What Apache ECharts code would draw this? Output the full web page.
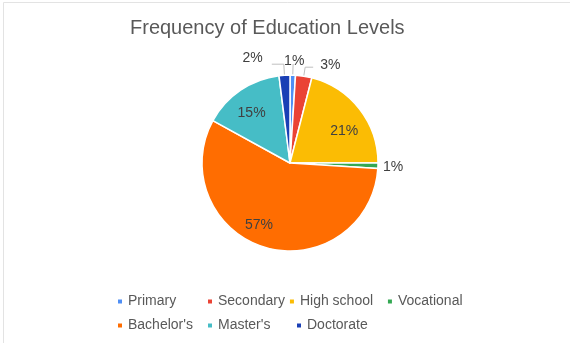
<!DOCTYPE html>
<html>
<head>
<meta charset="utf-8">
<script src="https://cdn.jsdelivr.net/npm/echarts@6/dist/echarts.min.js"></script>
<style>
  html, body { margin: 0; padding: 0; background: #fff; }
  #chart { width: 570px; height: 343px; }
</style>
</head>
<body>
<div id="chart"></div>
<script>
// Education levels and their share of respondents (percent)
const categories = ['Primary', 'Secondary', 'High school', 'Vocational', "Bachelor's", "Master's", 'Doctorate'];
const shares = [1, 3, 21, 1, 57, 15, 2];
const sliceColors = ['#4f8ff5', '#ea4335', '#fbbc04', '#34a853', '#ff6d01', '#46bdc6', '#1a3fb5'];
const insideLabels = ['High school', "Bachelor's", "Master's"];

const FONT = 'Liberation Sans, Arial, sans-serif';
const CX = 290, CY = 163, R = 88;

// leader-line lengths for the small outside slices
const leader = {
  'Primary':    { length: 11, length2: 0 },
  'Secondary':  { length: 9,  length2: 8 },
  'Vocational': { length: 3,  length2: 0, show: false },
  'Doctorate':  { length: 11, length2: 12 }
};
// small nudges applied after the pie has placed its labels
const nudge = {
  'Primary':     [-14, -3],
  'Secondary':   [2, -2],
  'Vocational':  [-3, 1],
  'Doctorate':   [-4, -6],
  'High school': [17, -3],
  "Master's":    [-12, -11],
  "Bachelor's":  [-18, 17]
};
// legend column widths
const legendTextWidth = {
  'Primary': 75, 'Secondary': 64, 'High school': 83,
  "Bachelor's": 75, "Master's": 74
};

const chart = echarts.init(document.getElementById('chart'), null, { renderer: 'canvas' });

const data = categories.map((name, i) => {
  const inside = insideLabels.includes(name);
  return {
    name: name,
    value: shares[i],
    itemStyle: { color: sliceColors[i] },
    label: { position: inside ? 'inside' : 'outside' },
    labelLine: inside ? { show: false } : Object.assign({ show: true }, leader[name])
  };
});

chart.setOption({
  animation: false,
  backgroundColor: '#ffffff',
  graphic: [{
    type: 'rect',
    shape: { x: 3.5, y: 2.5, width: 600, height: 400 },
    style: { fill: 'none', stroke: '#e3e3e3', lineWidth: 1 },
    silent: true
  }],
  title: {
    text: 'Frequency of Education Levels',
    left: 125,
    top: 13,
    textStyle: {
      fontFamily: FONT,
      fontSize: 20,
      fontWeight: 'normal',
      color: '#595959'
    }
  },
  legend: {
    left: 116,
    top: 291,
    width: 372,
    padding: 0,
    itemWidth: 6,
    itemHeight: 6,
    itemGap: 3,
    icon: 'rect',
    data: categories.map(name => legendTextWidth[name]
      ? { name: name, textStyle: { width: legendTextWidth[name] } }
      : { name: name }),
    textStyle: {
      fontFamily: FONT,
      fontSize: 14,
      color: '#595959',
      lineHeight: 21
    }
  },
  series: [{
    type: 'pie',
    center: [CX, CY],
    radius: R,
    startAngle: 90,
    clockwise: true,
    avoidLabelOverlap: false,
    itemStyle: { borderColor: '#ffffff', borderWidth: 1.5 },
    label: {
      formatter: '{c}%',
      fontFamily: FONT,
      fontSize: 14,
      color: '#404040'
    },
    labelLine: {
      lineStyle: { color: '#bfbfbf', width: 1 }
    },
    labelLayout: function (params) {
      const off = nudge[categories[params.dataIndex]];
      return off ? { dx: off[0], dy: off[1] } : {};
    },
    data: data
  }]
});
</script>
</body>
</html>
